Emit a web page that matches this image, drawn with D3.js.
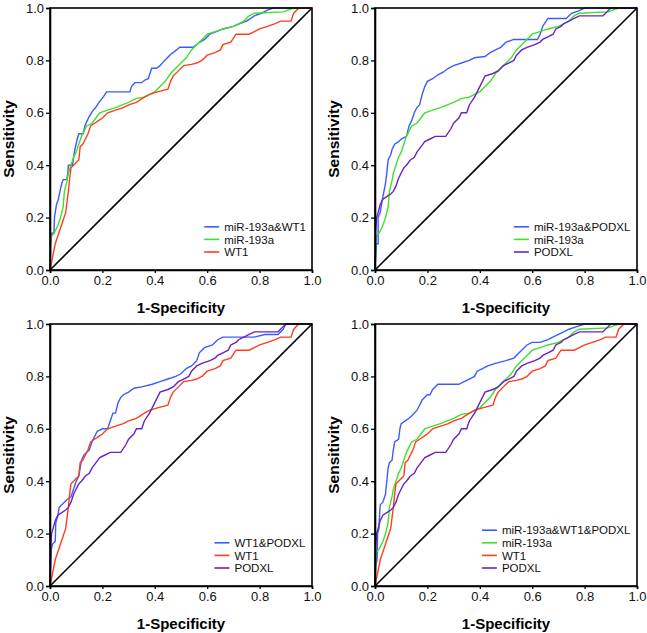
<!DOCTYPE html>
<html>
<head>
<meta charset="utf-8">
<script src="https://cdn.jsdelivr.net/npm/d3@7/dist/d3.min.js"></script>
<style>
  html, body { margin: 0; padding: 0; background: #fff; }
  svg { display: block; font-family: "Liberation Sans", Arial, sans-serif; }
</style>
</head>
<body>
<svg id="chart" width="647" height="633"></svg>
<script>
// ROC curves: [1-specificity, sensitivity]
var rocMirWt1 = [[0,0],[0.003,0.1],[0.007,0.14],[0.015,0.14],[0.017,0.2],[0.02,0.22],[0.025,0.25],[0.032,0.27],[0.038,0.3],[0.045,0.33],[0.05,0.345],[0.064,0.345],[0.068,0.37],[0.07,0.4],[0.086,0.4],[0.09,0.43],[0.095,0.46],[0.104,0.5],[0.11,0.52],[0.127,0.52],[0.133,0.55],[0.142,0.57],[0.152,0.59],[0.165,0.61],[0.174,0.62],[0.187,0.64],[0.203,0.66],[0.216,0.68],[0.305,0.68],[0.311,0.7],[0.324,0.715],[0.35,0.715],[0.362,0.725],[0.375,0.73],[0.388,0.77],[0.407,0.77],[0.42,0.78],[0.438,0.8],[0.457,0.82],[0.483,0.84],[0.495,0.85],[0.546,0.85],[0.56,0.86],[0.572,0.87],[0.59,0.88],[0.61,0.9],[0.635,0.91],[0.66,0.92],[0.7,0.93],[0.724,0.94],[0.75,0.95],[0.78,0.97],[0.807,0.98],[0.826,0.99],[0.851,1],[1,1]];
var rocMirPodxl = [[0,0],[0.005,0.1],[0.012,0.1],[0.012,0.2],[0.02,0.22],[0.03,0.28],[0.04,0.33],[0.045,0.37],[0.05,0.42],[0.06,0.44],[0.065,0.46],[0.075,0.48],[0.09,0.49],[0.1,0.5],[0.12,0.51],[0.13,0.55],[0.14,0.57],[0.15,0.6],[0.16,0.62],[0.17,0.63],[0.18,0.67],[0.19,0.7],[0.2,0.72],[0.22,0.73],[0.24,0.745],[0.26,0.755],[0.28,0.77],[0.3,0.78],[0.33,0.79],[0.36,0.8],[0.38,0.81],[0.42,0.815],[0.44,0.83],[0.46,0.84],[0.48,0.85],[0.5,0.87],[0.53,0.88],[0.62,0.88],[0.63,0.9],[0.64,0.93],[0.66,0.96],[0.73,0.96],[0.75,0.98],[0.78,0.99],[0.8,1],[1,1]];
var rocWt1Podxl = [[0,0],[0.005,0.14],[0.01,0.16],[0.02,0.17],[0.022,0.24],[0.03,0.27],[0.035,0.3],[0.045,0.31],[0.055,0.32],[0.065,0.33],[0.08,0.34],[0.09,0.37],[0.1,0.4],[0.11,0.42],[0.115,0.45],[0.12,0.48],[0.13,0.5],[0.15,0.52],[0.16,0.55],[0.17,0.57],[0.18,0.59],[0.2,0.6],[0.22,0.6],[0.23,0.63],[0.24,0.66],[0.25,0.66],[0.26,0.7],[0.27,0.72],[0.28,0.73],[0.3,0.74],[0.32,0.755],[0.35,0.76],[0.39,0.77],[0.42,0.78],[0.45,0.79],[0.48,0.8],[0.5,0.81],[0.52,0.83],[0.54,0.84],[0.56,0.86],[0.57,0.89],[0.59,0.91],[0.62,0.92],[0.64,0.94],[0.66,0.95],[0.78,0.95],[0.82,0.96],[0.87,0.96],[0.89,0.98],[0.9,1],[1,1]];
var rocAll = [[0,0],[0.003,0.08],[0.008,0.1],[0.01,0.2],[0.015,0.22],[0.018,0.28],[0.02,0.31],[0.03,0.32],[0.04,0.35],[0.045,0.4],[0.05,0.45],[0.055,0.47],[0.065,0.48],[0.07,0.52],[0.075,0.55],[0.09,0.56],[0.095,0.6],[0.1,0.62],[0.115,0.63],[0.13,0.64],[0.14,0.65],[0.15,0.66],[0.16,0.67],[0.17,0.69],[0.18,0.71],[0.19,0.72],[0.2,0.73],[0.21,0.73],[0.22,0.75],[0.24,0.77],[0.32,0.77],[0.34,0.78],[0.36,0.79],[0.38,0.8],[0.39,0.82],[0.41,0.83],[0.43,0.84],[0.46,0.85],[0.5,0.86],[0.53,0.87],[0.55,0.89],[0.56,0.9],[0.58,0.92],[0.6,0.93],[0.63,0.93],[0.66,0.94],[0.7,0.96],[0.72,0.97],[0.74,0.98],[0.77,0.99],[0.8,1],[1,1]];
var rocMir = [[0,0],[0.003,0.1],[0.005,0.13],[0.015,0.14],[0.02,0.15],[0.03,0.17],[0.04,0.2],[0.05,0.24],[0.055,0.3],[0.065,0.34],[0.07,0.37],[0.08,0.4],[0.09,0.43],[0.1,0.45],[0.11,0.48],[0.12,0.51],[0.13,0.53],[0.14,0.55],[0.16,0.56],[0.175,0.58],[0.19,0.6],[0.22,0.61],[0.25,0.62],[0.3,0.64],[0.33,0.655],[0.36,0.66],[0.38,0.67],[0.4,0.68],[0.42,0.7],[0.44,0.72],[0.46,0.75],[0.48,0.77],[0.5,0.79],[0.52,0.81],[0.54,0.84],[0.56,0.86],[0.58,0.88],[0.6,0.9],[0.63,0.91],[0.66,0.92],[0.7,0.93],[0.74,0.95],[0.76,0.97],[0.78,0.98],[0.89,0.985],[0.93,1],[1,1]];
var rocWt1 = [[0,0],[0.01,0.05],[0.02,0.1],[0.03,0.13],[0.04,0.16],[0.05,0.19],[0.06,0.22],[0.065,0.26],[0.07,0.3],[0.075,0.35],[0.08,0.39],[0.09,0.4],[0.1,0.41],[0.11,0.42],[0.115,0.47],[0.125,0.48],[0.135,0.5],[0.145,0.52],[0.155,0.55],[0.17,0.56],[0.185,0.57],[0.2,0.58],[0.22,0.6],[0.25,0.61],[0.28,0.62],[0.3,0.63],[0.33,0.64],[0.36,0.66],[0.38,0.67],[0.41,0.68],[0.45,0.69],[0.46,0.72],[0.47,0.74],[0.49,0.76],[0.51,0.78],[0.54,0.785],[0.56,0.79],[0.58,0.8],[0.6,0.82],[0.63,0.83],[0.65,0.84],[0.66,0.86],[0.69,0.87],[0.71,0.9],[0.76,0.9],[0.78,0.91],[0.8,0.92],[0.83,0.93],[0.86,0.94],[0.88,0.95],[0.92,0.95],[0.93,0.98],[0.95,1],[1,1]];
var rocPodxl = [[0,0],[0.003,0.15],[0.006,0.2],[0.012,0.22],[0.02,0.25],[0.03,0.27],[0.045,0.28],[0.06,0.29],[0.07,0.3],[0.08,0.32],[0.09,0.35],[0.1,0.37],[0.11,0.39],[0.12,0.4],[0.135,0.42],[0.15,0.43],[0.16,0.45],[0.175,0.47],[0.19,0.49],[0.21,0.5],[0.23,0.51],[0.27,0.51],[0.29,0.54],[0.3,0.56],[0.32,0.58],[0.33,0.6],[0.35,0.6],[0.36,0.63],[0.38,0.66],[0.39,0.68],[0.4,0.7],[0.41,0.72],[0.42,0.74],[0.45,0.75],[0.47,0.76],[0.49,0.78],[0.51,0.79],[0.53,0.8],[0.54,0.82],[0.56,0.84],[0.58,0.85],[0.61,0.86],[0.63,0.87],[0.64,0.88],[0.66,0.89],[0.68,0.9],[0.69,0.92],[0.71,0.93],[0.72,0.94],[0.74,0.95],[0.76,0.96],[0.78,0.97],[0.87,0.97],[0.89,0.99],[0.9,1],[1,1]];

var tickValues = [0, 0.2, 0.4, 0.6, 0.8, 1.0];
var xTitle = "1-Specificity";
var yTitle = "Sensitivity";

var BLUE = "#3a5cff", GREEN = "#3fe02a", RED = "#ff3d1f", PURPLE = "#6a22c4";

// each panel: position of plot area + series in legend order
var panels = [
  {left: 50, top: 8, series: [
    {name: "miR-193a&WT1", color: BLUE, data: rocMirWt1},
    {name: "miR-193a", color: GREEN, data: rocMir},
    {name: "WT1", color: RED, data: rocWt1}]},
  {left: 375, top: 8, series: [
    {name: "miR-193a&PODXL", color: BLUE, data: rocMirPodxl},
    {name: "miR-193a", color: GREEN, data: rocMir},
    {name: "PODXL", color: PURPLE, data: rocPodxl}]},
  {left: 50, top: 324, series: [
    {name: "WT1&PODXL", color: BLUE, data: rocWt1Podxl},
    {name: "WT1", color: RED, data: rocWt1},
    {name: "PODXL", color: PURPLE, data: rocPodxl}]},
  {left: 375, top: 324, series: [
    {name: "miR-193a&WT1&PODXL", color: BLUE, data: rocAll},
    {name: "miR-193a", color: GREEN, data: rocMir},
    {name: "WT1", color: RED, data: rocWt1},
    {name: "PODXL", color: PURPLE, data: rocPodxl}]}
];

var w = 262, h = 262;
var svg = d3.select("#chart");

var x = d3.scaleLinear().domain([0, 1]).range([0, w]);
var y = d3.scaleLinear().domain([0, 1]).range([h, 0]);
var line = d3.line().x(function (d) { return x(d[0]); }).y(function (d) { return y(d[1]); });

panels.forEach(function (p) {
  var g = svg.append("g").attr("transform", "translate(" + p.left + "," + p.top + ")");

  // reference diagonal
  g.append("line")
    .attr("x1", x(0)).attr("y1", y(0)).attr("x2", x(1)).attr("y2", y(1))
    .attr("stroke", "#000").attr("stroke-width", 1.6);

  // curves
  p.series.forEach(function (s) {
    g.append("path").datum(s.data)
      .attr("d", line)
      .attr("fill", "none")
      .attr("stroke", s.color)
      .attr("stroke-width", 1.4)
      .attr("stroke-linejoin", "miter");
  });

  // frame
  g.append("rect").attr("x", 0).attr("y", 0).attr("width", w).attr("height", h)
    .attr("fill", "none").attr("stroke", "#000").attr("stroke-width", 1.6);

  var fmt = d3.format(".1f");
  var xa = g.append("g").attr("transform", "translate(0," + h + ")")
    .call(d3.axisBottom(x).tickValues(tickValues).tickFormat(fmt).tickSize(3).tickPadding(3));
  var ya = g.append("g")
    .call(d3.axisLeft(y).tickValues(tickValues).tickFormat(fmt).tickSize(4).tickPadding(2));
  [xa, ya].forEach(function (a) {
    a.select(".domain").attr("stroke-width", 1.6);
    a.selectAll(".tick line").attr("stroke-width", 1.3);
    a.selectAll("text").attr("font-size", 13).attr("fill", "#111")
      .attr("font-family", "Liberation Sans, Arial, sans-serif");
  });

  g.append("text")
    .attr("x", w / 2).attr("y", h + 43)
    .attr("text-anchor", "middle")
    .attr("font-size", 15).attr("font-weight", "bold")
    .text(xTitle);

  g.append("text")
    .attr("transform", "translate(-36," + (h / 2) + ") rotate(-90)")
    .attr("text-anchor", "middle")
    .attr("font-size", 15.5).attr("font-weight", "bold")
    .text(yTitle);

  // legend, bottom-right inside the plot
  var lg = g.append("g");
  var n = p.series.length;
  p.series.forEach(function (s, i) {
    var row = lg.append("g").attr("transform", "translate(0," + (244 - (n - 1 - i) * 12.6) + ")");
    row.append("line").attr("x1", 0).attr("x2", 15).attr("y1", 0).attr("y2", 0)
      .attr("stroke", s.color).attr("stroke-width", 1.6);
    row.append("text").attr("x", 20).attr("y", 4.2)
      .attr("font-size", 11.5).attr("fill", "#111").text(s.name);
  });
  var bw = lg.node().getBBox().width;
  lg.attr("transform", "translate(" + (w - 6 - bw) + ",0)");
});
</script>
</body>
</html>
